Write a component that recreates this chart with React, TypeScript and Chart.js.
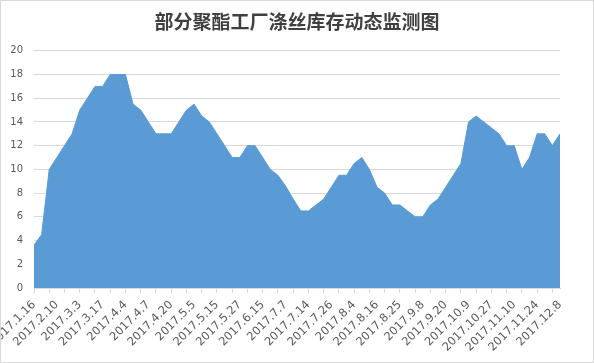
import React, { useEffect, useRef } from "react";
import { Chart, registerables } from "chart.js";

Chart.register(...registerables);

const title = "部分聚酯工厂涤丝库存动态监测图";

// Tick labels shown on every third category
const tickLabels = [
  "2017.1.16", "2017.2.10", "2017.3.3", "2017.3.17", "2017.4.4", "2017.4.7",
  "2017.4.20", "2017.5.5", "2017.5.15", "2017.5.27", "2017.6.15", "2017.7.7",
  "2017.7.14", "2017.7.26", "2017.8.4", "2017.8.16", "2017.8.25", "2017.9.8",
  "2017.9.20", "2017.10.9", "2017.10.27", "2017.11.10", "2017.11.24", "2017.12.8",
];

// Inventory values (days), one per observation
const values = [
  3.6, 4.5, 10, 11, 12, 13, 15, 16, 17, 17,
  18, 18, 18, 15.5, 15, 14, 13, 13, 13, 14,
  15, 15.5, 14.5, 14, 13, 12, 11, 11, 12, 12,
  11, 10, 9.5, 8.6, 7.5, 6.5, 6.5, 7, 7.5, 8.5,
  9.5, 9.5, 10.5, 11, 10, 8.5, 8, 7, 7, 6.5,
  6, 6, 7, 7.5, 8.5, 9.5, 10.5, 14, 14.5, 14,
  13.5, 13, 12, 12, 10, 11, 13, 13, 12, 13,
];

const labelEvery = 3;
const categories = values.map((_, i) =>
  i % labelEvery === 0 ? tickLabels[i / labelEvery] ?? "" : ""
);

export default function App() {
  const ref = useRef<HTMLCanvasElement>(null);

  useEffect(() => {
    if (!ref.current) return;
    const borderPlugin = {
      id: "outerBorder",
      afterDraw(chart: any) {
        const c = chart.ctx;
        c.save();
        c.strokeStyle = "#d9d9d9";
        c.lineWidth = 1;
        c.strokeRect(0.5, 0.5, chart.width - 1, chart.height - 1);
        c.restore();
      },
    };
    const chart = new Chart(ref.current, {
      type: "line",
      data: {
        labels: categories,
        datasets: [
          {
            data: values,
            fill: "origin",
            backgroundColor: "#5b9bd5",
            borderColor: "#5b9bd5",
            borderWidth: 1,
            pointRadius: 0,
            tension: 0,
          },
        ],
      },
      options: {
        animation: false,
        responsive: false,
        maintainAspectRatio: false,
        layout: { padding: 0 },
        plugins: {
          legend: { display: false },
          tooltip: { enabled: false },
          title: {
            display: true,
            text: title,
            color: "#404040",
            font: { family: "'Noto Sans CJK SC'", size: 19, weight: "bold" },
            padding: { top: 10, bottom: 18 },
          },
        },
        scales: {
          x: {
            offset: false,
            grid: {
              drawOnChartArea: false,
              drawTicks: true,
              tickLength: 5,
              tickColor: (ctx: any) => (ctx.index % 2 === 0 ? "#d9d9d9" : "rgba(0,0,0,0)"),
            },
            border: { display: true, color: "#d9d9d9" },
            ticks: {
              autoSkip: false,
              minRotation: 45,
              maxRotation: 45,
              padding: 5,
              color: "#595959",
              font: { family: "'DejaVu Sans'", size: 11.5 },
              callback: (_v: any, i: number) => categories[i],
            },
            afterFit: (scale: any) => {
              scale.height = 75;
              scale.paddingLeft = 0;
              scale.paddingRight = 34;
            },
          },
          y: {
            min: 0,
            max: 20,
            ticks: {
              stepSize: 2,
              padding: 11,
              color: "#595959",
              font: { family: "'DejaVu Sans'", size: 10 },
            },
            grid: { color: "#d9d9d9", drawTicks: false },
            border: { display: false },
            afterFit: (scale: any) => {
              scale.width = 34;
            },
          },
        },
      },
      plugins: [borderPlugin],
    });
    return () => chart.destroy();
  }, []);

  return (
    <div style={{ position: "fixed", left: 0, top: 0, width: 594, height: 363, background: "#fff" }}>
      <canvas ref={ref} width={594} height={363} style={{ width: 594, height: 363, display: "block" }} />
    </div>
  );
}
